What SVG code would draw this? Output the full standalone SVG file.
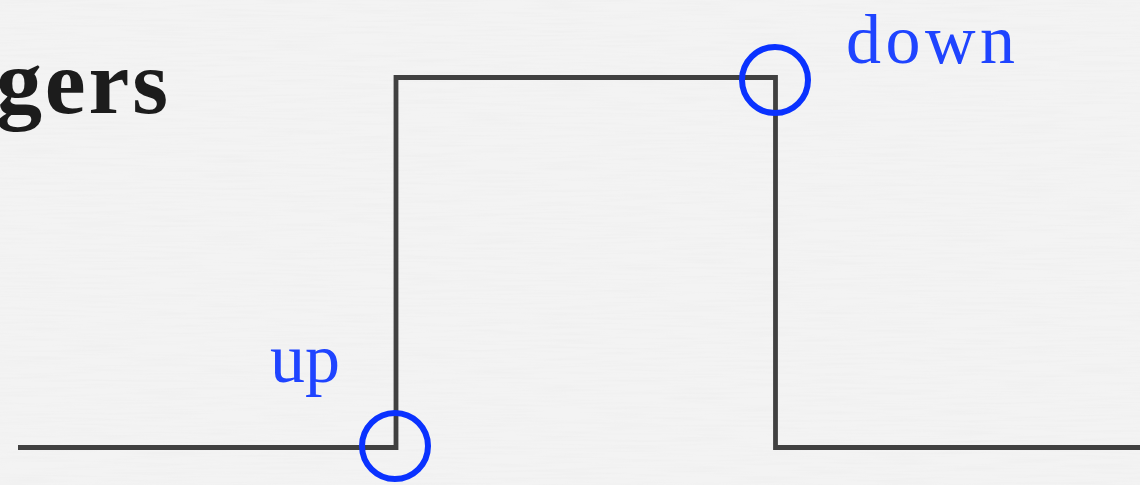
<svg xmlns="http://www.w3.org/2000/svg" width="1140" height="485" viewBox="0 0 1140 485">
  <defs>
    <filter id="paper" x="0" y="0" width="100%" height="100%">
      <feTurbulence type="fractalNoise" baseFrequency="0.015 0.4" numOctaves="3" seed="4" result="n"/>
      <feColorMatrix in="n" type="matrix" values="0 0 0 0 0.86  0 0 0 0 0.86  0 0 0 0 0.86  0 0 0 -1.6 0.95" result="c"/>
      <feComposite in="c" in2="SourceGraphic" operator="in"/>
    </filter>
    <style>
      .wave { fill: none; stroke: #404040; stroke-width: 4.8; stroke-linejoin: miter; }
      .ring { fill: none; stroke: #0a32ff; stroke-width: 6; }
      .lbl { font-family: "Liberation Serif", serif; font-size: 70px; fill: #1f44ff; }
      .title { font-family: "Liberation Serif", serif; font-weight: bold; font-size: 92px; fill: #1c1c1c; }
    </style>
  </defs>
  <rect width="1140" height="485" fill="#f3f3f3"/>
  <rect width="1140" height="485" fill="#ffffff" filter="url(#paper)"/>
  <g id="title">
    <text class="title" x="168" y="113" text-anchor="end" textLength="172">gers</text>
  </g>
  <g id="connectors">
    <path class="wave" d="M18,447.5 H396 V77.5 H775.5 V447.5 H1140"/>
  </g>
  <g id="up">
    <circle class="ring" cx="395" cy="446" r="33"/>
    <text class="lbl" x="270" y="382">up</text>
  </g>
  <g id="down">
    <circle class="ring" cx="775" cy="80" r="33"/>
    <text class="lbl" x="846" y="63" font-size="73" textLength="169">down</text>
  </g>
</svg>
